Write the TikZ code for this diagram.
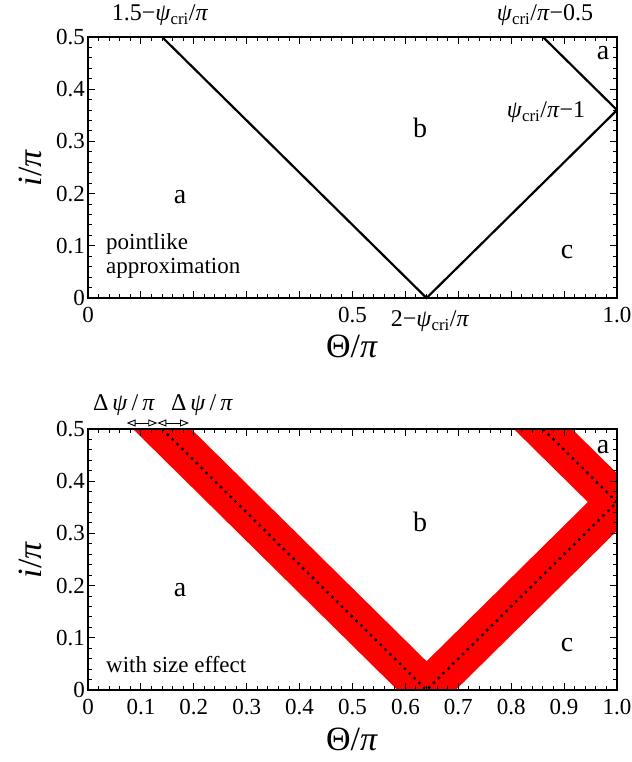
\documentclass[tikz,border=0pt]{standalone}
\usepackage{fontspec}
\setmainfont{Liberation Serif}
\usetikzlibrary{arrows.meta}
\newcommand\psicri{\textit{ψ}\textsubscript{cri}}
\newcommand\drawframeticks{%
  \draw[frameline] (0,0) rectangle (1,0.5);
  \foreach \k in {1,...,49}{
    \pgfmathsetmacro\tl{ifthenelse(mod(\k,5)==0,7,4)}
    \draw[tickline] (\k/50,0) -- ++(0,\tl pt);
    \draw[tickline] (\k/50,0.5) -- ++(0,-\tl pt);
  }
  \foreach \k in {1,...,24}{
    \pgfmathsetmacro\tl{ifthenelse(mod(\k,5)==0,7,4)}
    \draw[tickline] (0,\k/50) -- ++(\tl pt,0);
    \draw[tickline] (1,\k/50) -- ++(-\tl pt,0);
  }
  \foreach \k/\t in {0/0,1/0.1,2/0.2,3/0.3,4/0.4,5/0.5}{
    \node[ticklab, anchor=east] (yl\k) at ([xshift=-3pt]0,\k/10) {\t};
  }
}
\begin{document}
\begin{tikzpicture}[x=1pt,y=1pt,
  frameline/.style={line width=1.4pt},
  tickline/.style={line width=1pt},
  curve/.style={line width=2.2pt},
  dotline/.style={line width=2.4pt, dash pattern=on 2.4pt off 4.4pt},
  ticklab/.style={font=\fontsize{23}{23}\selectfont, inner sep=0pt},
  region/.style={font=\fontsize{28}{28}\selectfont, inner sep=0pt},
  axlab/.style={font=\fontsize{34}{34}\selectfont, inner sep=0pt},
  note/.style={font=\fontsize{23}{23}\selectfont, inner sep=0pt, anchor=west},
  marklab/.style={font=\fontsize{24}{24}\selectfont, inner sep=0pt},
  darrow/.style={line width=0.9pt, {Triangle[open,length=9pt,width=7pt]}-{Triangle[open,length=9pt,width=7pt]}}
]
\useasboundingbox (0,0) rectangle (631,762);
\fill[white] (0,0) rectangle (631,762);

% ---------------- top plot ----------------
\begin{scope}[shift={(88,464)}, x=529pt, y=522pt]
  \draw[curve] (0.14,0.5) -- (0.64,0) -- (1,0.36);
  \draw[curve] (0.86,0.5) -- (1,0.36);
  \drawframeticks
  \foreach \k/\t in {0/0,5/0.5,10/1.0}{
    \node[ticklab, anchor=north] (xt\k) at ([yshift=-9pt]\k/10,0) {\t};
  }
\end{scope}
\node[marklab] (m1) at (160,747) {1.5−\psicri/\textit{π}};
\node[marklab] (m2) at (545,747) {\psicri/\textit{π}−0.5};
\node[marklab] (m3) at (546,650) {\psicri/\textit{π}−1};
\node[marklab] (m4) at (430,441) {2−\psicri/\textit{π}};
\node[region] (ta1) at (603,709) {a};
\node[region] (tb) at (420,634) {b};
\node[region] (ta2) at (180,565) {a};
\node[region] (tc) at (567,510) {c};
\node[note] (pl1) at (106,518) {pointlike};
\node[note] (pl2) at (106,494) {approximation};
\node[axlab] (tx) at (352,416) {Θ/\textit{π}};
\node[axlab, rotate=90] (ty) at (30,594) {\textit{i}/\textit{π}};

% ---------------- bottom plot ----------------
\begin{scope}[shift={(88,72)}, x=529pt, y=522pt]
  \begin{scope}
    \clip (0,0) rectangle (1,0.5);
    \fill[red] (0.585,0) -- (0.695,0) -- (0.195,0.5) -- (0.085,0.5) -- cycle;
    \fill[red] (0.585,0) -- (0.695,0) -- (1.195,0.5) -- (1.085,0.5) -- cycle;
    \fill[red] (0.805,0.5) -- (0.915,0.5) -- (1.415,0) -- (1.305,0) -- cycle;
    \draw[dotline] (0.14,0.5) -- (0.64,0) -- (1,0.36);
    \draw[dotline] (0.86,0.5) -- (1,0.36);
  \end{scope}
  \drawframeticks
  \foreach \k/\t in {0/0,1/0.1,2/0.2,3/0.3,4/0.4,5/0.5,6/0.6,7/0.7,8/0.8,9/0.9,10/1.0}{
    \node[ticklab, anchor=north] (bxt\k) at ([yshift=-9pt]\k/10,0) {\t};
  }
  \coordinate (d0) at ([yshift=6pt]0.073,0.5);
  \coordinate (d1) at ([yshift=6pt]0.131,0.5);
  \coordinate (d2) at ([yshift=6pt]0.191,0.5);
  \draw[darrow] (d0) -- (d1);
  \draw[darrow] (d1) -- (d2);
\end{scope}
\node[marklab] (dl1) at (124,357) {Δ\,\textit{ψ}\,/\,\textit{π}};
\node[marklab] (dl2) at (202,357) {Δ\,\textit{ψ}\,/\,\textit{π}};
\node[region] (ba1) at (603,315) {a};
\node[region] (bb) at (420,240) {b};
\node[region] (ba2) at (180,172) {a};
\node[region] (bc) at (567,117) {c};
\node[note] (ws) at (106,97) {with size effect};
\node[axlab] (bx) at (352,23) {Θ/\textit{π}};
\node[axlab, rotate=90] (by) at (30,202) {\textit{i}/\textit{π}};
\end{tikzpicture}
\end{document}
